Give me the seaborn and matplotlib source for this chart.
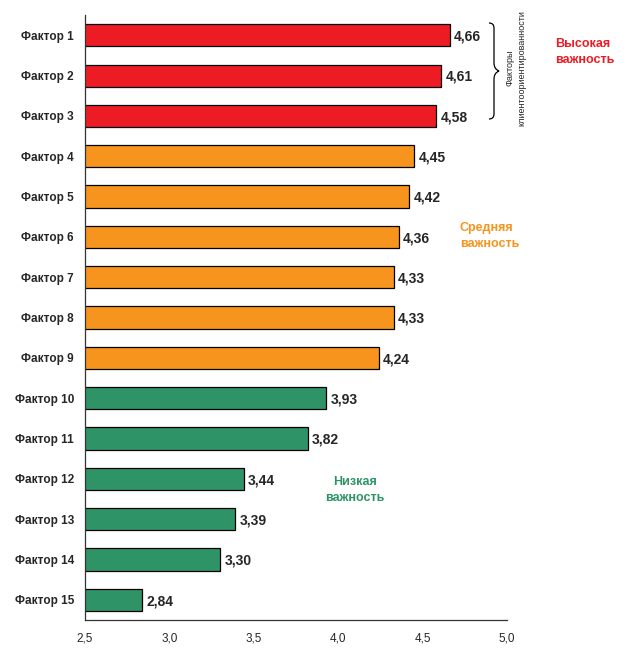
import numpy as np
import pandas as pd
import matplotlib
matplotlib.use('Agg')
import matplotlib.pyplot as plt
from matplotlib.path import Path
from matplotlib.patches import PathPatch
import seaborn as sns

factors = ['Фактор %d' % i for i in range(1, 16)]
scores = [4.66, 4.61, 4.58, 4.45, 4.42, 4.36, 4.33, 4.33, 4.24,
          3.93, 3.82, 3.44, 3.39, 3.30, 2.84]
groups = ['high'] * 3 + ['mid'] * 6 + ['low'] * 6
group_colors = {'high': '#ED1C24', 'mid': '#F7941D', 'low': '#2E9467'}

df = pd.DataFrame({'factor': factors, 'score': scores, 'group': groups})

sns.set_style('white')
plt.rcParams['font.family'] = ['Liberation Sans', 'DejaVu Sans']

fig = plt.figure(figsize=(6.27, 6.49), dpi=100)
ax = fig.add_axes([0.1356, 0.0447, 0.673, 0.932])

sns.barplot(data=df, y='factor', x='score', hue='group', palette=group_colors,
            dodge=False, legend=False, width=0.55, edgecolor='black',
            linewidth=0.9, orient='h', saturation=1, ax=ax)

ax.set_xlim(2.5, 5.0)
ax.set_ylim(14.5, -0.5)
ax.set_xticks(np.arange(2.5, 5.01, 0.5))
ax.set_xticklabels([('%.1f' % t).replace('.', ',') for t in np.arange(2.5, 5.01, 0.5)],
                   fontsize=8.5)
ax.set_yticks(range(15))
ax.set_yticklabels(factors, fontsize=8.5, fontweight='bold')
ax.set_yticks(np.arange(-0.5, 15, 1), minor=True)
ax.tick_params(axis='y', which='major', length=0, pad=8)
ax.tick_params(axis='y', which='minor', length=4, width=0.8, direction='out')
ax.tick_params(axis='x', length=4, width=0.8, direction='out', pad=5)
ax.set_xlabel('')
ax.set_ylabel('')
for s in ['top', 'right']:
    ax.spines[s].set_visible(False)
for s in ['left', 'bottom']:
    ax.spines[s].set_color('#333333')
    ax.spines[s].set_linewidth(0.9)

for i, v in enumerate(scores):
    ax.annotate(('%.2f' % v).replace('.', ','), (v, i), xytext=(3, -1),
                textcoords='offset points', va='center', ha='left',
                fontsize=10, fontweight='bold')

# group captions
fig.text(555 / 627, 1 - 52 / 649, 'Высокая\nважность', color='#ED1C24',
         fontsize=9, fontweight='bold', ha='left', va='center', linespacing=1.5)
fig.text(460 / 627, 1 - 236 / 649, 'Средняя\nважность', color='#F7941D',
         fontsize=9, fontweight='bold', ha='left', va='center', linespacing=1.5)
fig.text(355 / 627, 1 - 490 / 649, 'Низкая\nважность', color='#2E9467',
         fontsize=9, fontweight='bold', ha='center', va='center', linespacing=1.5)

# brace next to top three factors
W, H = 627, 649
def fp(x, y):
    return (x / W, 1 - y / H)
x0, xm, xt = 489, 494, 499
y0, ym, y1 = 23, 71, 119
verts = [fp(x0, y0), fp(xm, y0), fp(xm, y0 + 5), fp(xm, y0 + 10),
         fp(xm, ym - 8), fp(xm, ym - 2), fp(xt, ym),
         fp(xm, ym + 2), fp(xm, ym + 8),
         fp(xm, y1 - 10), fp(xm, y1 - 5), fp(xm, y1), fp(x0, y1)]
codes = [Path.MOVETO, Path.CURVE3, Path.CURVE3, Path.LINETO,
         Path.LINETO, Path.CURVE3, Path.CURVE3,
         Path.CURVE3, Path.CURVE3,
         Path.LINETO, Path.LINETO, Path.CURVE3, Path.CURVE3]
fig.patches.append(PathPatch(Path(verts, codes), transform=fig.transFigure,
                             fill=False, lw=0.9, color='black'))
fig.text(516 / 627, 1 - 68 / 649, 'Факторы\nклиентоориентированности', rotation=90,
         fontsize=6.5, ha='center', va='center', linespacing=1.3)

fig.savefig('out.png', dpi=100)
